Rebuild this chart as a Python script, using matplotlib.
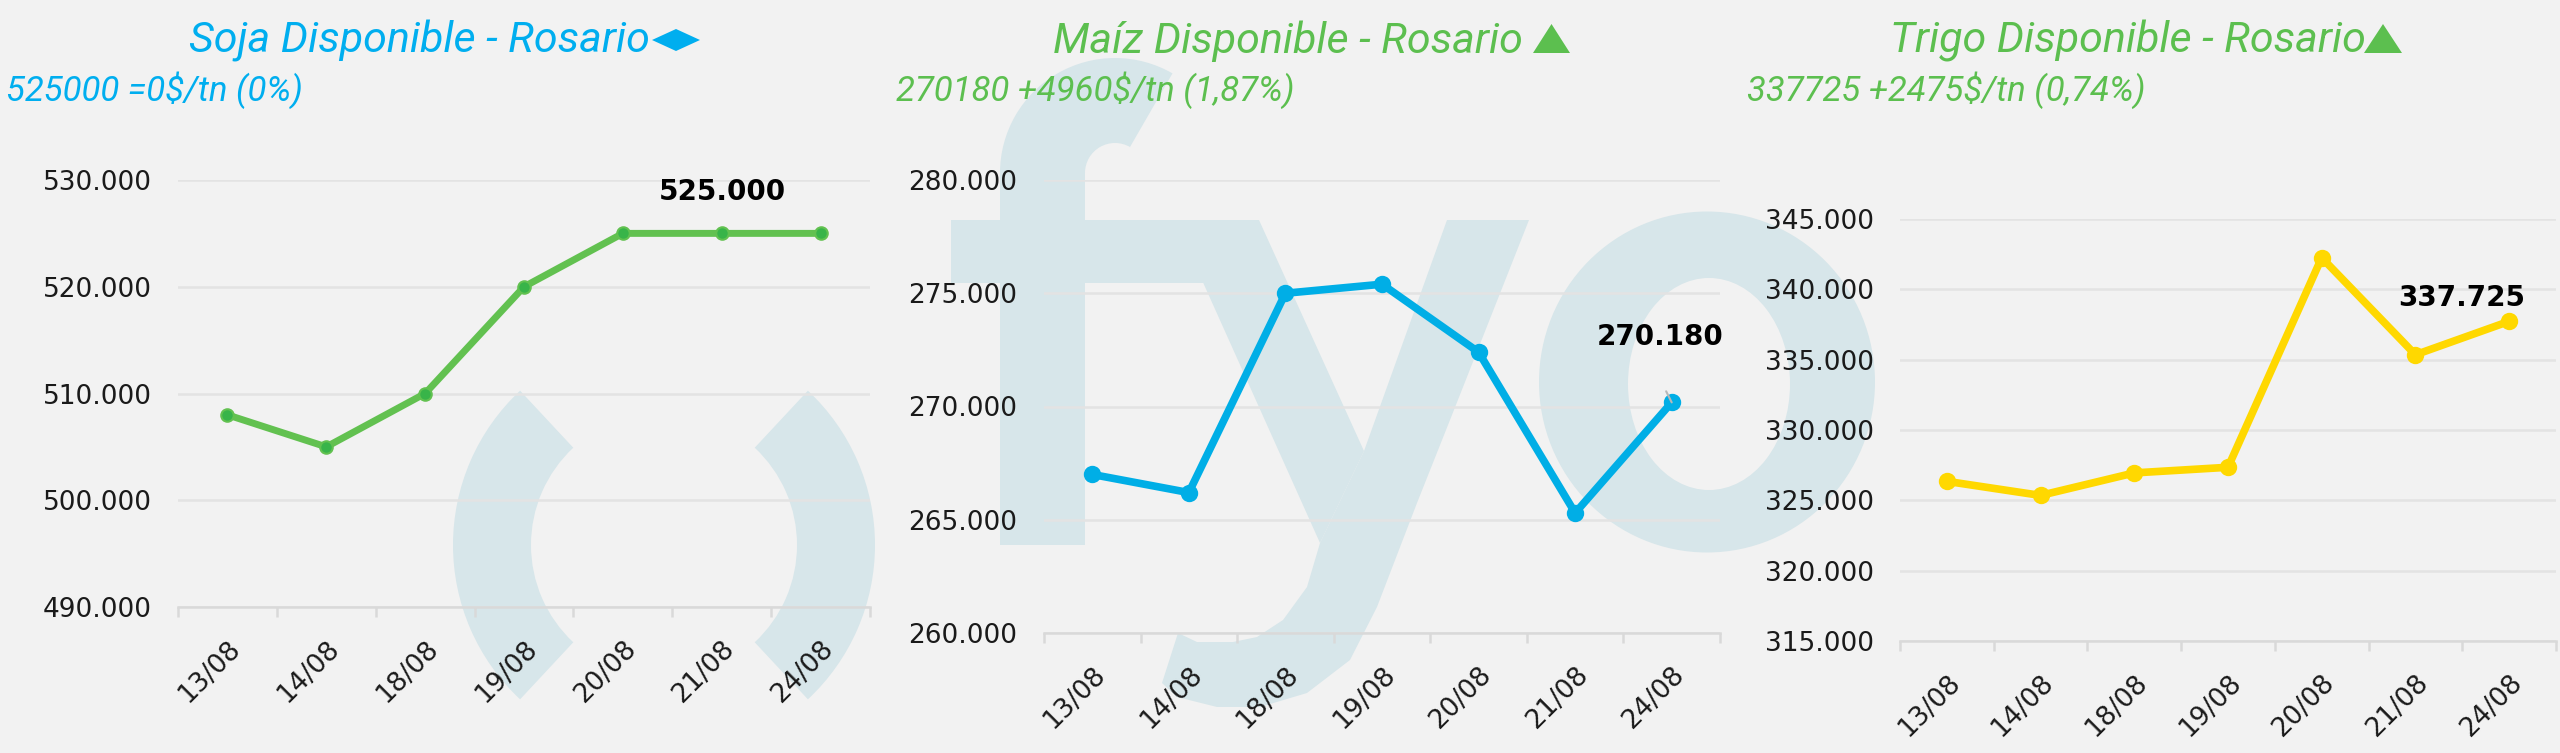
import numpy as np
import matplotlib
matplotlib.use('Agg')
import matplotlib.pyplot as plt
from matplotlib.patches import Polygon, Wedge, Ellipse, Rectangle
from matplotlib.transforms import Affine2D
from matplotlib.ticker import FuncFormatter

# datos (precios disponibles Rosario, $/tn)
fechas = ['13/08', '14/08', '18/08', '19/08', '20/08', '21/08', '24/08']
soja = [508000, 505000, 510000, 520000, 525000, 525000, 525000]
maiz = [267000, 266200, 275000, 275400, 272400, 265300, 270180]
trigo = [326350, 325350, 326950, 327350, 342250, 335350, 337725]

titulos = ['Soja Disponible - Rosario', 'Maíz Disponible - Rosario', 'Trigo Disponible - Rosario']
subtitulos = ['525000 =0$/tn (0%)', '270180 +4960$/tn (1,87%)', '337725 +2475$/tn (0,74%)']

W, H = 2560, 753
BG = '#F2F2F2'
WM = '#D7E6EA'
AZUL = '#00AEEF'
VERDE = '#5CBF4F'
AMARILLO = '#FFD800'

fig = plt.figure(figsize=(W / 100, H / 100), dpi=100, facecolor=BG)
# pixel coords, origin top-left
pix = Affine2D().scale(1 / W, -1 / H).translate(0, 1) + fig.transFigure


def wm(patch, z=-5):
    patch.set_transform(pix)
    patch.set_zorder(z)
    patch.set_linewidth(0)
    fig.add_artist(patch)


# watermark "fyo"
wm(Wedge((664, 545), 211, 133, 227, width=78, color=WM))
wm(Wedge((664, 545), 211, -47, 47, width=78, color=WM))
wm(Rectangle((1000, 173), 85, 372, color=WM))
wm(Wedge((1115, 173), 115, 180, 300, width=85, color=WM))
wm(Rectangle((951, 220), 308, 63, color=WM))
wm(Polygon([(1175, 220), (1259, 220), (1364, 451), (1320, 543)], color=WM))
wm(Polygon([(1447, 220), (1529, 220), (1450, 420), (1417, 503), (1377, 607), (1350, 660),
            (1307, 693), (1260, 707), (1217, 707), (1177, 697), (1162, 683), (1178, 633),
            (1197, 642), (1233, 642), (1257, 637), (1283, 620), (1307, 587), (1320, 543),
            (1364, 451)], color=WM))
wm(Ellipse((1707, 382), 336, 341, color=WM))
wm(Ellipse((1709, 384), 162, 212, color=BG), z=-4)

fmt = FuncFormatter(lambda v, p: f'{v:,.0f}'.replace(',', '.'))
x = np.arange(len(fechas))


def panel(rect, vals, color, ylim, step, lw, ms, mfc, label_off):
    ax = fig.add_axes([rect[0] / W, 1 - rect[3] / H, (rect[2] - rect[0]) / W, (rect[3] - rect[1]) / H])
    ax.set_facecolor('none')
    ax.plot(x, vals, color=color, lw=lw, marker='o', ms=ms, mfc=mfc, mec=color, mew=1.5,
            solid_joinstyle='round', zorder=3)
    ax.set_xlim(-0.5, len(fechas) - 0.5)
    ax.set_ylim(*ylim)
    ax.set_yticks(np.arange(ylim[0], ylim[1] + 1, step))
    ax.yaxis.set_major_formatter(fmt)
    ax.grid(axis='y', color='#E3E3E3', lw=1.8)
    ax.set_axisbelow(True)
    for s in ['top', 'right', 'left']:
        ax.spines[s].set_visible(False)
    ax.spines['bottom'].set_color('#D9D9D9')
    ax.spines['bottom'].set_linewidth(1.8)
    ax.set_xticks(x)
    ax.set_xticklabels(fechas, rotation=45, ha='right', va='top', rotation_mode='anchor')
    ax.set_xticks(np.arange(-0.5, len(fechas)), minor=True)
    ax.tick_params(axis='x', which='major', length=0, pad=21, labelsize=19, labelcolor='#1A1A1A')
    ax.tick_params(axis='x', which='minor', length=7, width=1.8, color='#D9D9D9')
    ax.tick_params(axis='y', length=0, pad=19, labelsize=19, labelcolor='#1A1A1A')
    ax.annotate(fmt(vals[-1], None), xy=(x[-1], vals[-1]), xytext=label_off,
                textcoords='offset points', ha='center', va='center',
                fontsize=20, fontweight='bold', color='black', family='DejaVu Sans')
    return ax


ax1 = panel((178, 180, 870, 607), soja, '#62C150', (490000, 530000), 10000, 5, 9, '#38B449', (-71, 30))
ax2 = panel((1044, 180, 1720, 633), maiz, '#00AEE6', (260000, 280000), 5000, 5.5, 11, '#00AEE6', (-8, 47))
ax3 = panel((1900, 219, 2556, 641), trigo, AMARILLO, (315000, 345000), 5000, 5.5, 11, AMARILLO, (-34, 17))

# leader line of the maiz label
ax2.annotate('', xy=(x[-1], maiz[-1]), xytext=(-4, 8), textcoords='offset points',
             arrowprops=dict(arrowstyle='-', color='#B8B8B8', lw=1.5, shrinkA=0, shrinkB=0))

# titles
tfont = dict(family=['Roboto', 'DejaVu Sans'], style='italic')
t_col = [AZUL, VERDE, VERDE]
t_cx = [419, 1288, 2128]
s_x = [6, 896, 1747]
for i in range(3):
    fig.text(t_cx[i] / W, 1 - 53 / H, titulos[i], ha='center', va='baseline',
             fontsize=31, color=t_col[i], fontweight='normal', **tfont)
    fig.text(s_x[i] / W, 1 - 101 / H, subtitulos[i], ha='left', va='baseline',
             fontsize=25, color=t_col[i], fontweight='normal', **tfont)

# arrows next to titles
fig.add_artist(Polygon([(652, 40), (676, 29), (700, 40), (676, 51)], color=AZUL, transform=pix, lw=0))
fig.add_artist(Polygon([(1533, 53), (1570, 53), (1551.5, 24)], color=VERDE, transform=pix, lw=0))
fig.add_artist(Polygon([(2364, 53), (2402, 53), (2383, 24)], color=VERDE, transform=pix, lw=0))

fig.savefig('out.png', dpi=100, facecolor=BG)
